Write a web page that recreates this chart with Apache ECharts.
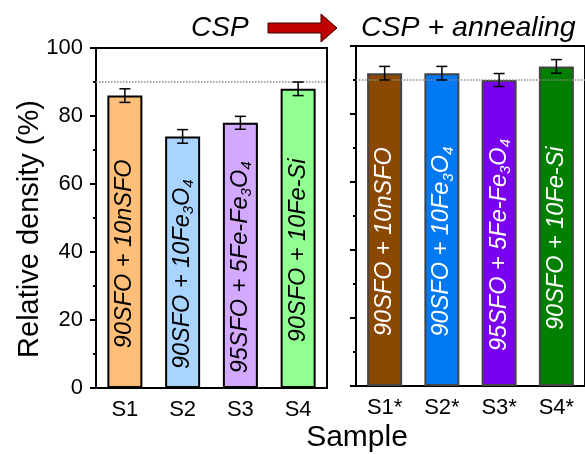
<!DOCTYPE html>
<html>
<head>
<meta charset="utf-8">
<script src="https://cdn.jsdelivr.net/npm/echarts@6/dist/echarts.min.js"></script>
<style>html,body{margin:0;padding:0;background:#fff}#c{width:585px;height:454px}</style>
</head>
<body>
<div id="c"></div>
<script>
// ---- data ----
var catsCSP = ['S1', 'S2', 'S3', 'S4'];
var catsAnn = ['S1*', 'S2*', 'S3*', 'S4*'];
var densityCSP = [86, 74, 78, 88];
var errCSP = [2, 2, 1.9, 2];
var densityAnn = [92, 92, 90, 94];
var errAnn = [2, 2, 1.9, 2];
var sampleNames = [
  ['90SFO + 10nSFO'],
  ['90SFO + 10Fe', '3', 'O', '4'],
  ['95SFO + 5Fe-Fe', '3', 'O', '4'],
  ['90SFO + 10Fe-Si']
];
var colorsCSP = ['#FFBF78', '#A9D4FF', '#D3A9FF', '#91FF91'];
var colorsAnn = ['#8A4800', '#0079F2', '#7A00F0', '#007F00'];
var refLine = 90;
var yTicks = { min: 0, max: 100, interval: 20 };
var headerLeft = 'CSP';
var headerRight = 'CSP + annealing';
var xTitle = 'Sample';
var yTitle = 'Relative density (%)';

var FONT = '"Liberation Sans", Arial, Helvetica, sans-serif';

function richName(parts) {
  var s = '';
  for (var i = 0; i < parts.length; i++) {
    s += (i % 2 === 0 ? '{a|' : '{s|') + parts[i] + '}';
  }
  return s;
}

function barData(vals, colors, borderColor) {
  return vals.map(function (v, i) {
    return { value: v, itemStyle: { color: colors[i], borderColor: borderColor } };
  });
}

function errSeries(xi, yi, vals, errs) {
  return {
    type: 'custom',
    xAxisIndex: xi, yAxisIndex: yi,
    z: 10,
    silent: true,
    data: vals.map(function (v, i) { return [i, v - errs[i], v + errs[i]]; }),
    renderItem: function (params, api) {
      var lo = api.coord([api.value(0), api.value(1)]);
      var hi = api.coord([api.value(0), api.value(2)]);
      var hw = 5.5;
      var st = { stroke: '#000', lineWidth: 1.5 };
      return {
        type: 'group',
        children: [
          { type: 'line', shape: { x1: lo[0], y1: lo[1], x2: hi[0], y2: hi[1] }, style: st },
          { type: 'line', shape: { x1: lo[0] - hw, y1: lo[1], x2: lo[0] + hw, y2: lo[1] }, style: st },
          { type: 'line', shape: { x1: hi[0] - hw, y1: hi[1], x2: hi[0] + hw, y2: hi[1] }, style: st }
        ]
      };
    }
  };
}

function barLabel(color) {
  return {
    show: true,
    position: 'inside',
    rotate: 90,
    offset: [-12, 0],
    formatter: function (p) { return richName(sampleNames[p.dataIndex]); },
    rich: {
      a: { fontSize: 23.5, fontStyle: 'italic', fontFamily: FONT, color: color, lineHeight: 28 },
      s: { fontSize: 15, fontStyle: 'italic', fontFamily: FONT, color: color, lineHeight: 16, verticalAlign: 'bottom' }
    }
  };
}

var refMark = {
  silent: true,
  symbol: 'none',
  label: { show: false },
  lineStyle: { type: 'dotted', color: '#8a8a8a', width: 1.5 },
  data: [{ yAxis: refLine }]
};

function xAxisCfg(gi, cats) {
  return {
    type: 'category', gridIndex: gi, data: cats,
    axisLine: { lineStyle: { color: '#000', width: 2 } },
    axisTick: { alignWithLabel: true, length: 6, lineStyle: { color: '#000', width: 2 } },
    axisLabel: { color: '#000', fontSize: 22, fontFamily: FONT, margin: 11 }
  };
}
function yAxisCfg(gi, showLabels) {
  return {
    type: 'value', gridIndex: gi, min: yTicks.min, max: yTicks.max, interval: yTicks.interval,
    splitLine: { show: false },
    axisLine: { show: true, lineStyle: { color: '#000', width: 2 } },
    axisTick: { show: true, length: 6, lineStyle: { color: '#000', width: 2 } },
    minorTick: { show: true, splitNumber: 2, length: 3, lineStyle: { color: '#000', width: 2 } },
    axisLabel: { show: showLabels, color: '#000', fontSize: 22, fontFamily: FONT, margin: 13 }
  };
}

var chart = echarts.init(document.getElementById('c'), null, { renderer: 'canvas' });
chart.setOption({
  animation: false,
  backgroundColor: '#fff',
  grid: [
    { left: 96, top: 48, width: 231, height: 340, show: true, borderColor: '#000', borderWidth: 2, backgroundColor: 'transparent' },
    { left: 356, top: 46, width: 232, height: 340, show: true, borderColor: '#000', borderWidth: 2, backgroundColor: 'transparent' }
  ],
  xAxis: [xAxisCfg(0, catsCSP), xAxisCfg(1, catsAnn)],
  yAxis: [yAxisCfg(0, true), yAxisCfg(1, false)],
  series: [
    {
      type: 'bar', xAxisIndex: 0, yAxisIndex: 0, barWidth: 35,
      data: barData(densityCSP, colorsCSP, '#000'),
      itemStyle: { borderWidth: 2 },
      label: barLabel('#000'),
      markLine: refMark
    },
    errSeries(0, 0, densityCSP, errCSP),
    {
      type: 'bar', xAxisIndex: 1, yAxisIndex: 1, barWidth: 35,
      data: barData(densityAnn, colorsAnn, '#444'),
      itemStyle: { borderWidth: 2 },
      label: barLabel('#fff'),
      markLine: refMark
    },
    errSeries(1, 1, densityAnn, errAnn)
  ],
  graphic: [
    { type: 'text', x: 191, y: 28, style: { text: headerLeft, fontSize: 28, fontStyle: 'italic', fontFamily: FONT, fill: '#000', textVerticalAlign: 'middle' } },
    { type: 'polygon', shape: { points: [[268, 23], [321, 23], [321, 14], [337, 28], [321, 42], [321, 33], [268, 33]] },
      style: { fill: '#C00000', stroke: '#400000', lineWidth: 1 } },
    { type: 'text', x: 361, y: 28, style: { text: headerRight, fontSize: 28.5, fontStyle: 'italic', fontFamily: FONT, fill: '#000', textVerticalAlign: 'middle' } },
    { type: 'text', x: 357, y: 438, style: { text: xTitle, fontSize: 30, fontFamily: FONT, fill: '#000', textAlign: 'center', textVerticalAlign: 'middle' } },
    { type: 'text', x: 30, y: 229, rotation: Math.PI / 2, style: { text: yTitle, fontSize: 29, fontFamily: FONT, fill: '#000', textAlign: 'center', textVerticalAlign: 'middle' } }
  ]
});
</script>
</body>
</html>
